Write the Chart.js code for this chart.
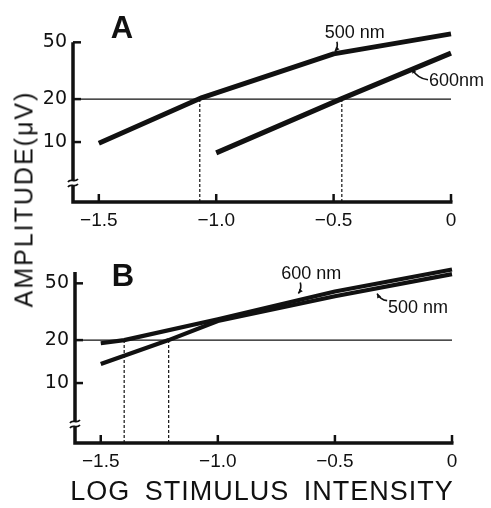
<!DOCTYPE html>
<html>
<head>
<meta charset="utf-8">
<script src="https://cdn.jsdelivr.net/npm/chart.js@4.4.1/dist/chart.umd.min.js"></script>
<style>
  html, body { margin: 0; padding: 0; background: #fff; }
  #wrap { position: relative; width: 491px; height: 508px; overflow: hidden; }
  #chartA { position: absolute; left: 0; top: 0; }
  #chartB { position: absolute; left: 0; top: 240px; }
  .ytitle {
    position: absolute; left: 24px; top: 199px;
    transform: translate(-50%, -50%) rotate(-90deg);
    font: 25px 'Liberation Sans', Arial, sans-serif; letter-spacing: 2px;
    white-space: nowrap; color: #111;
  }
  .xtitle {
    position: absolute; left: 262px; top: 491px;
    transform: translate(-50%, -50%);
    font: 27px 'Liberation Sans', Arial, sans-serif; letter-spacing: 1px; word-spacing: 6px;
    white-space: nowrap; color: #111;
  }
</style>
</head>
<body>
<div id="wrap">
  <canvas id="chartA" width="491" height="250"></canvas>
  <canvas id="chartB" width="491" height="268"></canvas>
  <div class="ytitle">AMPLITUDE(μV)</div>
  <div class="xtitle">LOG STIMULUS INTENSITY</div>
</div>
<script>
// axis ticks and range
const ticksX = [-1.5, -1.0, -0.5, 0];
const ticksY = [10, 20, 50];
const xRange = [-1.61, 0];
const yRange = [3.8, 62];
const criterion = 20;

// panel A
const logA500 = [-1.5, -1.06, -0.5, 0];
const ampA500 = [9.8, 20.5, 41.5, 57.3];
const logA600 = [-1.0, -0.47, 0];
const ampA600 = [8.4, 20, 42];
const crossA = [-1.07, -0.465];

// panel B
const logB500 = [-1.5, -1.21, -1.0, -0.5, 0];
const ampB500 = [13.6, 20, 27.2, 40.6, 58.0];
const logB600 = [-1.5, -1.4, -1.0, -0.5, 0];
const ampB600 = [19.0, 20, 28.0, 43.8, 62.5];
const crossB = [-1.40, -1.21];

const INK = '#111';

function pts(xs, ys) {
    return xs.map((x, i) => ({ x: x, y: ys[i] }));
}

function buildDatasets(curves, cross, lw) {
    const sets = curves.map(c => ({
        data: pts(c[0], c[1]),
        borderColor: INK, borderWidth: lw, pointRadius: 0, tension: 0,
        borderJoinStyle: 'round', clip: false
    }));
    // criterion line at 20 uV
    sets.push({
        data: pts(xRange, [criterion, criterion]),
        borderColor: INK, borderWidth: 1.4, pointRadius: 0, clip: false
    });
    // dotted drops to the x axis
    cross.forEach(c => {
        sets.push({
            data: pts([c, c], [criterion, yRange[0]]),
            borderColor: INK, borderWidth: 1.2, borderDash: [3, 2], pointRadius: 0
        });
    });
    return sets;
}

// axes, break mark, panel letter, curve labels
const deco = {
    id: 'deco',
    afterDraw(chart, args, opts) {
        const { ctx, chartArea: a, scales: { x, y } } = chart;
        ctx.save();
        ctx.strokeStyle = INK;
        ctx.fillStyle = INK;
        ctx.lineWidth = 3.5;
        ctx.lineCap = 'butt';
        const x0 = x.getPixelForValue(ticksX[ticksX.length - 1]);
        const yTop = y.getPixelForValue(opts.axisTop);
        ctx.beginPath();
        ctx.moveTo(a.left, yTop);
        ctx.lineTo(a.left, a.bottom);
        ctx.lineTo(x0 + 1.5, a.bottom);
        ctx.stroke();

        ctx.lineWidth = 2.5;
        ticksY.forEach(v => {
            const py = y.getPixelForValue(v);
            ctx.beginPath();
            ctx.moveTo(a.left, py);
            ctx.lineTo(a.left + 8, py);
            ctx.stroke();
        });
        ticksX.forEach(v => {
            const px = x.getPixelForValue(v);
            ctx.beginPath();
            ctx.moveTo(px, a.bottom);
            ctx.lineTo(px, a.bottom - 8);
            ctx.stroke();
        });

        // axis break
        const by = a.bottom - 19;
        ctx.fillStyle = '#fff';
        ctx.fillRect(a.left - 3, by - 2.5, 6, 5);
        ctx.lineWidth = 1.8;
        [-2.5, 2.5].forEach(off => {
            ctx.beginPath();
            ctx.moveTo(a.left - 5, by + off + 1.5);
            ctx.bezierCurveTo(a.left - 2, by + off - 3, a.left + 1, by + off + 3, a.left + 5, by + off - 1.5);
            ctx.stroke();
        });

        // panel letter
        ctx.fillStyle = INK;
        ctx.font = 'bold 31px "Liberation Sans", Arial, sans-serif';
        ctx.textAlign = 'center';
        ctx.textBaseline = 'middle';
        ctx.fillText(opts.letter[0], opts.letter[1], opts.letter[2]);

        // curve labels with arrows
        ctx.font = '18px "Liberation Sans", Arial, sans-serif';
        opts.labels.forEach(l => {
            ctx.textAlign = l.align;
            ctx.fillText(l.text, x.getPixelForValue(l.at[0]), y.getPixelForValue(l.at[1]));
            const tx = x.getPixelForValue(l.tail[0]), ty = y.getPixelForValue(l.tail[1]);
            const hx = x.getPixelForValue(l.tip[0]), hy = y.getPixelForValue(l.tip[1]);
            const mx = (tx + hx) / 2 + (hy - ty) * 0.25, my = (ty + hy) / 2 - (hx - tx) * 0.25;
            ctx.lineWidth = 1.6;
            ctx.beginPath();
            ctx.moveTo(tx, ty);
            ctx.quadraticCurveTo(mx, my, hx, hy);
            ctx.stroke();
            const ang = Math.atan2(hy - my, hx - mx);
            ctx.beginPath();
            ctx.moveTo(hx, hy);
            ctx.lineTo(hx - 5 * Math.cos(ang - 0.45), hy - 5 * Math.sin(ang - 0.45));
            ctx.lineTo(hx - 5 * Math.cos(ang + 0.45), hy - 5 * Math.sin(ang + 0.45));
            ctx.closePath();
            ctx.fill();
        });
        ctx.restore();
    }
};

function makeOptions(yWidth, xHeight, padTop, padRight, decoOpts) {
    return {
        responsive: false,
        animation: false,
        layout: { padding: { top: padTop, right: padRight, left: 0, bottom: 0 } },
        plugins: { legend: { display: false }, tooltip: { enabled: false }, deco: decoOpts },
        scales: {
            x: {
                type: 'linear', min: xRange[0], max: xRange[1],
                grid: { display: false, drawTicks: false }, border: { display: false },
                afterBuildTicks: s => { s.ticks = ticksX.map(v => ({ value: v })); },
                afterFit: s => { s.height = xHeight; },
                ticks: {
                    autoSkip: false, maxRotation: 0, padding: 7, color: INK,
                    font: { family: '"Liberation Sans", Arial, sans-serif', size: 19 },
                    callback: v => v === 0 ? '0' : '\u2212' + Math.abs(v).toFixed(1)
                }
            },
            y: {
                type: 'logarithmic', min: yRange[0], max: yRange[1],
                grid: { display: false, drawTicks: false }, border: { display: false },
                afterBuildTicks: s => { s.ticks = ticksY.map(v => ({ value: v })); },
                afterFit: s => { s.width = yWidth; },
                ticks: {
                    padding: 6, color: INK,
                    font: { family: '"DejaVu Sans", sans-serif', size: 19 },
                    callback: v => String(v)
                }
            }
        }
    };
}

new Chart(document.getElementById('chartA'), {
    type: 'line',
    data: { datasets: buildDatasets([[logA500, ampA500], [logA600, ampA600]], crossA, 5) },
    options: makeOptions(73, 48, 29, 40, {
        axisTop: 50,
        letter: ['A', 122, 29],
        labels: [
            { text: '500 nm', align: 'center', at: [-0.41, 58.2], tail: [-0.486, 50.4], tip: [-0.494, 43.2] },
            { text: '600nm', align: 'left', at: [-0.094, 26.9], tail: [-0.098, 27.3], tip: [-0.166, 32.6] }
        ]
    }),
    plugins: [deco]
});

new Chart(document.getElementById('chartB'), {
    type: 'line',
    data: { datasets: buildDatasets([[logB500, ampB500], [logB600, ampB600]], crossB, 4.2) },
    options: makeOptions(75, 65, 30, 39, {
        axisTop: 60,
        letter: ['B', 123, 37],
        labels: [
            { text: '600 nm', align: 'center', at: [-0.601, 58.5], tail: [-0.648, 50.6], tip: [-0.656, 42.4] },
            { text: '500 nm', align: 'left', at: [-0.273, 33.8], tail: [-0.277, 37.8], tip: [-0.320, 42.4] }
        ]
    }),
    plugins: [deco]
});
</script>
</body>
</html>
